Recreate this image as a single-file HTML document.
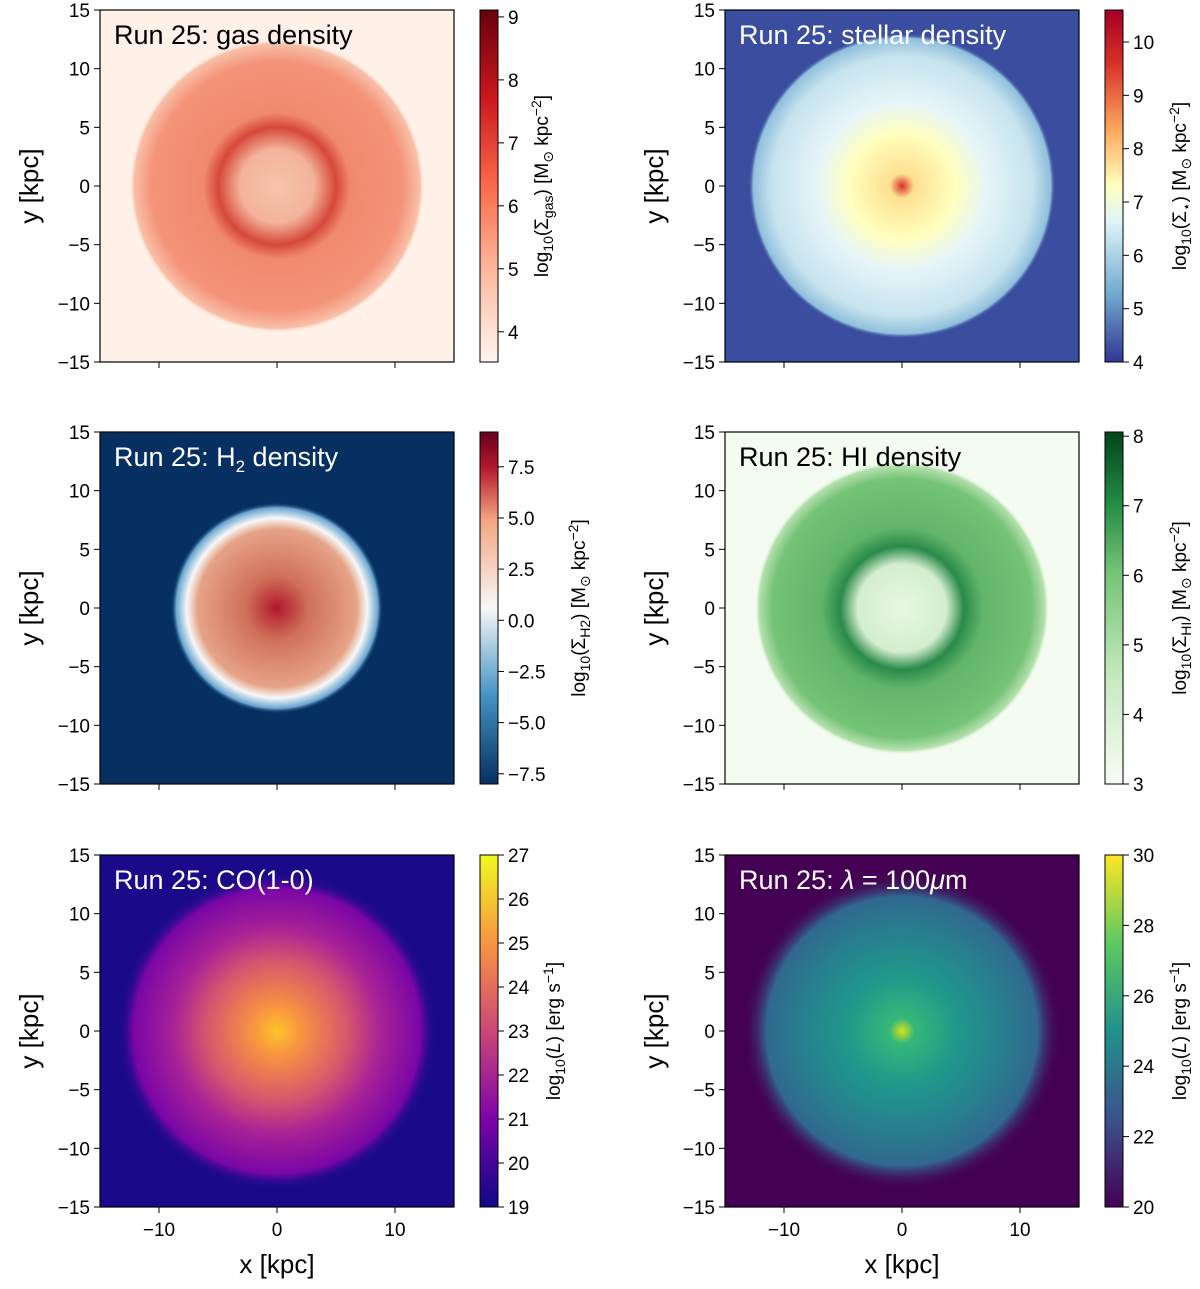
<!DOCTYPE html>
<html><head><meta charset="utf-8"><style>
body{margin:0;background:#fff;}
svg text{font-family:"Liberation Sans","DejaVu Sans",sans-serif;fill:#000;}
</style></head><body>
<svg id="fig" width="1200" height="1284" xmlns="http://www.w3.org/2000/svg">
<defs>
<radialGradient id="g0"><stop offset="0" stop-color="#f6c3ad"/><stop offset="0.25" stop-color="#f3b39a"/><stop offset="0.4" stop-color="#d6483a"/><stop offset="0.5" stop-color="#f08a6c"/><stop offset="0.85" stop-color="#f4937a"/><stop offset="0.97" stop-color="#f8c0a8"/><stop offset="1" stop-color="#fff0e8" stop-opacity="0"/></radialGradient>
<radialGradient id="g1"><stop offset="0" stop-color="#d73027"/><stop offset="0.08" stop-color="#fee090"/><stop offset="0.35" stop-color="#ffffbf"/><stop offset="0.55" stop-color="#e6f5f8"/><stop offset="0.85" stop-color="#c6e3ee"/><stop offset="0.97" stop-color="#8fbfdc"/><stop offset="1" stop-color="#3a4d9f" stop-opacity="0"/></radialGradient>
<radialGradient id="g2"><stop offset="0" stop-color="#b2182b"/><stop offset="0.3" stop-color="#d0705a"/><stop offset="0.75" stop-color="#e6a387"/><stop offset="0.85" stop-color="#f7f7f7"/><stop offset="0.95" stop-color="#6aa6d0"/><stop offset="1" stop-color="#053061" stop-opacity="0"/></radialGradient>
<radialGradient id="g3"><stop offset="0" stop-color="#e8f6e3"/><stop offset="0.3" stop-color="#d4eece"/><stop offset="0.42" stop-color="#2a8a4a"/><stop offset="0.55" stop-color="#62b56a"/><stop offset="0.88" stop-color="#74c376"/><stop offset="0.97" stop-color="#b5e0ad"/><stop offset="1" stop-color="#f4fbf1" stop-opacity="0"/></radialGradient>
<radialGradient id="g4"><stop offset="0" stop-color="#fdc328"/><stop offset="0.15" stop-color="#f89540"/><stop offset="0.45" stop-color="#d5546e"/><stop offset="0.65" stop-color="#a82296"/><stop offset="0.9" stop-color="#7a06a6"/><stop offset="1" stop-color="#1a0a8a" stop-opacity="0"/></radialGradient>
<radialGradient id="g5"><stop offset="0" stop-color="#d8e219"/><stop offset="0.08" stop-color="#35b779"/><stop offset="0.35" stop-color="#1f988b"/><stop offset="0.6" stop-color="#26828e"/><stop offset="0.85" stop-color="#31688e"/><stop offset="1" stop-color="#440154" stop-opacity="0"/></radialGradient>
<linearGradient id="c0" x1="0" y1="1" x2="0" y2="0"><stop offset="0" stop-color="#fff5f0"/><stop offset="0.25" stop-color="#fcbba1"/><stop offset="0.5" stop-color="#fb6a4a"/><stop offset="0.75" stop-color="#cb181d"/><stop offset="1" stop-color="#67000d"/></linearGradient>
<linearGradient id="c1" x1="0" y1="1" x2="0" y2="0"><stop offset="0" stop-color="#313695"/><stop offset="0.2" stop-color="#74add1"/><stop offset="0.4" stop-color="#e0f3f8"/><stop offset="0.5" stop-color="#ffffbf"/><stop offset="0.65" stop-color="#fdae61"/><stop offset="0.85" stop-color="#d73027"/><stop offset="1" stop-color="#a50026"/></linearGradient>
<linearGradient id="c2" x1="0" y1="1" x2="0" y2="0"><stop offset="0" stop-color="#053061"/><stop offset="0.25" stop-color="#4393c3"/><stop offset="0.5" stop-color="#f7f7f7"/><stop offset="0.75" stop-color="#f4a582"/><stop offset="0.9" stop-color="#b2182b"/><stop offset="1" stop-color="#67001f"/></linearGradient>
<linearGradient id="c3" x1="0" y1="1" x2="0" y2="0"><stop offset="0" stop-color="#f7fcf5"/><stop offset="0.3" stop-color="#c7e9c0"/><stop offset="0.6" stop-color="#74c476"/><stop offset="0.8" stop-color="#238b45"/><stop offset="1" stop-color="#00441b"/></linearGradient>
<linearGradient id="c4" x1="0" y1="1" x2="0" y2="0"><stop offset="0" stop-color="#0d0887"/><stop offset="0.25" stop-color="#7e03a8"/><stop offset="0.5" stop-color="#cc4778"/><stop offset="0.75" stop-color="#f89540"/><stop offset="1" stop-color="#f0f921"/></linearGradient>
<linearGradient id="c5" x1="0" y1="1" x2="0" y2="0"><stop offset="0" stop-color="#440154"/><stop offset="0.25" stop-color="#3b528b"/><stop offset="0.5" stop-color="#21918c"/><stop offset="0.75" stop-color="#5ec962"/><stop offset="1" stop-color="#fde725"/></linearGradient>
</defs>
</svg>
<script>
const axisTicks=[-15,-10,-5,0,5,10,15];
const xTicks=[-10,0,10];
const cbRanges=[[3.52,9.11],[4,10.6],[-8.0,9.2],[3,8.06],[19,27],[20,30]];
const cbTicks=[[4,5,6,7,8,9],[4,5,6,7,8,9,10],[-7.5,-5,-2.5,0,2.5,5,7.5],[3,4,5,6,7,8],[19,20,21,22,23,24,25,26,27],[20,22,24,26,28,30]];
const cbFmt=[0,0,1,0,0,0];
const titles=['Run 25: gas density','Run 25: stellar density','Run 25: H<tspan font-size="17" dy="6">2</tspan><tspan dy="-6"> density</tspan>','Run 25: HI density','Run 25: CO(1-0)','Run 25: <tspan font-style="italic">λ</tspan> = 100<tspan font-style="italic">μ</tspan>m'];
const titleColor=['#000','#fff','#fff','#000','#fff','#fff'];
const bgs=['#fff0e8','#3a4d9f','#053061','#f4fbf1','#1a0a8a','#440154'];
const diskR=[12.5,13,9,12.5,13.5,13.5];
const cbLabelOff=[50,63,87,63,62,63];
const cbLabels=['log<tspan font-size="14" dy="5">10</tspan><tspan dy="-5">(Σ</tspan><tspan font-size="14" dy="5">gas</tspan><tspan dy="-5">) [M</tspan><tspan font-size="14" dy="5">⊙</tspan><tspan dy="-5"> kpc</tspan><tspan font-size="14" dy="-7">−2</tspan><tspan dy="7">]</tspan>',
'log<tspan font-size="14" dy="5">10</tspan><tspan dy="-5">(Σ</tspan><tspan font-size="14" dy="5">⋆</tspan><tspan dy="-5">) [M</tspan><tspan font-size="14" dy="5">⊙</tspan><tspan dy="-5"> kpc</tspan><tspan font-size="14" dy="-7">−2</tspan><tspan dy="7">]</tspan>',
'log<tspan font-size="14" dy="5">10</tspan><tspan dy="-5">(Σ</tspan><tspan font-size="14" dy="5">H2</tspan><tspan dy="-5">) [M</tspan><tspan font-size="14" dy="5">⊙</tspan><tspan dy="-5"> kpc</tspan><tspan font-size="14" dy="-7">−2</tspan><tspan dy="7">]</tspan>',
'log<tspan font-size="14" dy="5">10</tspan><tspan dy="-5">(Σ</tspan><tspan font-size="14" dy="5">HI</tspan><tspan dy="-5">) [M</tspan><tspan font-size="14" dy="5">⊙</tspan><tspan dy="-5"> kpc</tspan><tspan font-size="14" dy="-7">−2</tspan><tspan dy="7">]</tspan>',
'log<tspan font-size="14" dy="5">10</tspan><tspan dy="-5">(</tspan><tspan font-style="italic">L</tspan>) [erg s<tspan font-size="14" dy="-7">−1</tspan><tspan dy="7">]</tspan>',
'log<tspan font-size="14" dy="5">10</tspan><tspan dy="-5">(</tspan><tspan font-style="italic">L</tspan>) [erg s<tspan font-size="14" dy="-7">−1</tspan><tspan dy="7">]</tspan>'];
const svg=document.getElementById('fig');
const NS='http://www.w3.org/2000/svg';
function mk(tag,attrs,parent,html){const e=document.createElementNS(NS,tag);for(const k in attrs)e.setAttribute(k,attrs[k]);if(html!==undefined)e.innerHTML=html;(parent||svg).appendChild(e);return e;}
const colX=[100,725], rowY=[10,432,855], W=354, H=352, cbOff=380, cbW=18;
for(let i=0;i<6;i++){
  const c=i%2,r=Math.floor(i/2);
  const x0=colX[c],y0=rowY[r];
  const g=mk('g',{});
  
  
  const sx=v=>x0+(v+15)/30*W, sy=v=>y0+H-(v+15)/30*H;
  const bg=mk('rect',{x:x0,y:y0,width:W,height:H,fill:bgs[i]},g);
  
  
  const d=mk('ellipse',{cx:sx(0),cy:sy(0),rx:diskR[i]/30*W,ry:diskR[i]/30*H,fill:'url(#g'+i+')'},g);
  
  
  const fr=mk('rect',{x:x0,y:y0,width:W,height:H,fill:'none',stroke:'#000','stroke-width':1.2},g);
  
  
  const t=mk('text',{x:x0+14,y:y0+34,'font-size':27,fill:titleColor[i],style:'fill:'+titleColor[i]},g,titles[i]);
  
  
  axisTicks.forEach(v=>{
    mk('line',{x1:x0-6,x2:x0,y1:sy(v),y2:sy(v),stroke:'#000'},g);
    const tl=mk('text',{x:x0-10,y:sy(v)+7,'font-size':19,'text-anchor':'end'},g,v<0?'−'+(-v):v);
    
    
  });
  xTicks.forEach(v=>{
    mk('line',{x1:sx(v),x2:sx(v),y1:y0+H,y2:y0+H+6,stroke:'#000'},g);
    if(r===2){const tl=mk('text',{x:sx(v),y:y0+H+29,'font-size':19,'text-anchor':'middle'},g,v<0?'−'+(-v):v);
      
      }
  });
  const yl=mk('text',{transform:'translate('+(x0-62)+','+(y0+H/2)+') rotate(-90)','font-size':26,'text-anchor':'middle'},g,'y [kpc]');
  
  
  if(r===2){const xl=mk('text',{x:x0+W/2,y:y0+H+66,'font-size':26,'text-anchor':'middle'},g,'x [kpc]');
    
    }
  const cx=x0+cbOff,[lo,hi]=cbRanges[i];
  const cy=v=>y0+H-(v-lo)/(hi-lo)*H;
  const cb=mk('rect',{x:cx,y:y0,width:cbW,height:H,fill:'url(#c'+i+')',stroke:'#000','stroke-width':1},g);
  
  
  cbTicks[i].forEach(v=>{
    mk('line',{x1:cx+cbW,x2:cx+cbW+6,y1:cy(v),y2:cy(v),stroke:'#000'},g);
    const s=v.toFixed(cbFmt[i]);
    const tl=mk('text',{x:cx+cbW+10,y:cy(v)+7,'font-size':19},g,s.replace('-','−'));
    
    
  });
  const lx=cx+cbW+cbLabelOff[i];
  const cl=mk('text',{transform:'translate('+lx+','+(y0+H/2)+') rotate(-90)','font-size':19,'text-anchor':'middle'},g,cbLabels[i]);
  
  
}
</script>
</body></html>
